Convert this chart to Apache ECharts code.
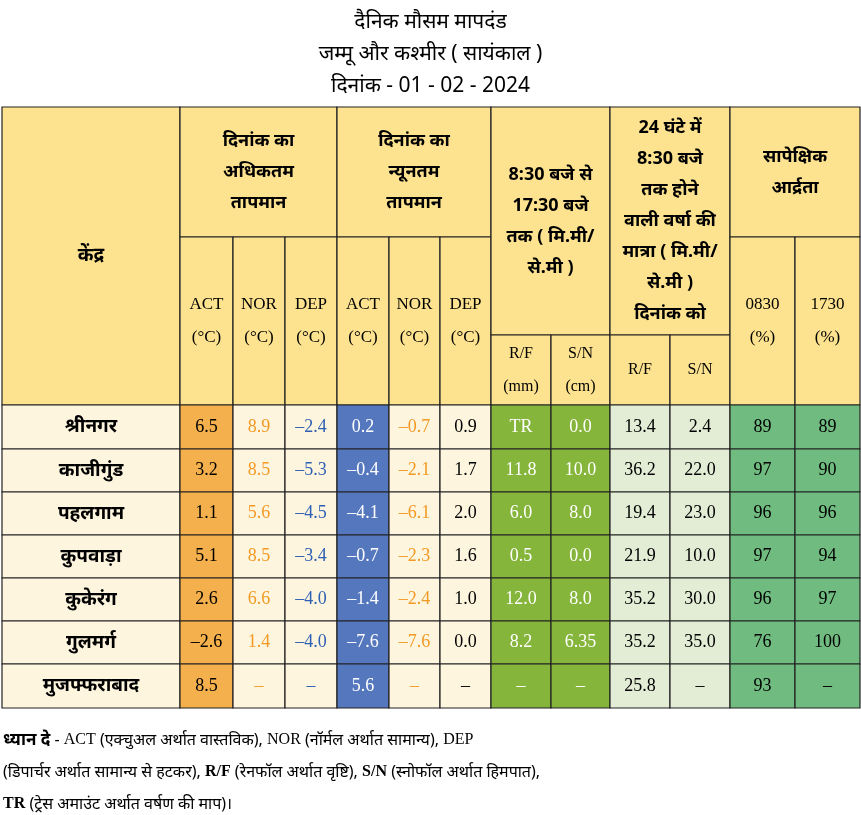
<!DOCTYPE html>
<html><head><meta charset="utf-8">
<script src="https://cdn.jsdelivr.net/npm/echarts@6/dist/echarts.min.js"></script>
<style>html,body{margin:0;padding:0;background:#fff}#c{width:861px;height:815px}</style>
</head><body><div id="c"></div>
<script>
// ---- data ----
const stations = ['श्रीनगर','काजीगुंड','पहलगाम','कुपवाड़ा','कुकेरंग','गुलमर्ग','मुजफ्फराबाद'];
const maxAct = ['6.5','3.2','1.1','5.1','2.6','–2.6','8.5'];
const maxNor = ['8.9','8.5','5.6','8.5','6.6','1.4','–'];
const maxDep = ['–2.4','–5.3','–4.5','–3.4','–4.0','–4.0','–'];
const minAct = ['0.2','–0.4','–4.1','–0.7','–1.4','–7.6','5.6'];
const minNor = ['–0.7','–2.1','–6.1','–2.3','–2.4','–7.6','–'];
const minDep = ['0.9','1.7','2.0','1.6','1.0','0.0','–'];
const rfDay = ['TR','11.8','6.0','0.5','12.0','8.2','–'];
const snDay = ['0.0','10.0','8.0','0.0','8.0','6.35','–'];
const rf24 = ['13.4','36.2','19.4','21.9','35.2','35.2','25.8'];
const sn24 = ['2.4','22.0','23.0','10.0','30.0','35.0','–'];
const rh0830 = ['89','97','96','97','96','76','93'];
const rh1730 = ['89','90','96','94','97','100','–'];
const titleLines = ['दैनिक मौसम मापदंड','जम्मू और कश्मीर ( सायंकाल )','दिनांक - 01 - 02 - 2024'];

// ---- layout ----
const colX = [2,180,233,285,337,389,440,491,551,610,670,730,795,860];
const rowY = [107,237,335,405,449,492,535,578,621,664,708];
const HDR = '#fde38f', CREAM = '#fef5df';
const DEV = "'Noto Sans','Lohit Devanagari','FreeSans',sans-serif";
const SER = "'Liberation Serif','DejaVu Serif',serif";

const cells = [];
function cell(c0,c1,r0,r1,text,bg,color,font,bold,size){cells.push([c0,c1,r0,r1,text,bg,color,font,bold?1:0,size||17]);}
cell(0,1,0,3,'केंद्र',HDR,'#000',DEV,1,19);
cell(1,4,0,1,'दिनांक का\nअधिकतम\nतापमान',HDR,'#000',DEV,1,18);
cell(4,7,0,1,'दिनांक का\nन्यूनतम\nतापमान',HDR,'#000',DEV,1,18);
['ACT','NOR','DEP','ACT','NOR','DEP'].forEach((t,i)=>cell(1+i,2+i,1,3,t+'\n(°C)',HDR,'#000',SER,0,17));
cell(7,9,0,2,'8:30 बजे से\n17:30 बजे\nतक ( मि.मी/\nसे.मी )',HDR,'#000',DEV,1,18);
cell(7,8,2,3,'R/F\n(mm)',HDR,'#000',SER,0,16);
cell(8,9,2,3,'S/N\n(cm)',HDR,'#000',SER,0,16);
cell(9,11,0,2,'24 घंटे में\n8:30 बजे\nतक होने\nवाली वर्षा की\nमात्रा ( मि.मी/\nसे.मी )\nदिनांक को',HDR,'#000',DEV,1,18);
cell(9,10,2,3,'R/F',HDR,'#000',SER,0,16);
cell(10,11,2,3,'S/N',HDR,'#000',SER,0,16);
cell(11,13,0,1,'सापेक्षिक\nआर्द्रता',HDR,'#000',DEV,1,18);
cell(11,12,1,3,'0830\n(%)',HDR,'#000',SER,0,17);
cell(12,13,1,3,'1730\n(%)',HDR,'#000',SER,0,17);
const cols = [
 [stations,CREAM,'#000',DEV,1],
 [maxAct,'#f4b04c','#000',SER,0],
 [maxNor,CREAM,'#f39a25',SER,0],
 [maxDep,CREAM,'#2d5fb3',SER,0],
 [minAct,'#5577be','#fff',SER,0],
 [minNor,CREAM,'#f39a25',SER,0],
 [minDep,CREAM,'#000',SER,0],
 [rfDay,'#86b53c','#fff',SER,0],
 [snDay,'#86b53c','#fff',SER,0],
 [rf24,'#e3ecd5','#000',SER,0],
 [sn24,'#e3ecd5','#000',SER,0],
 [rh0830,'#70bc80','#000',SER,0],
 [rh1730,'#70bc80','#000',SER,0]
];
cols.forEach((c,ci)=>c[0].forEach((v,ri)=>cell(ci,ci+1,3+ri,4+ri,v,c[1],c[2],c[3],c[4],ci===0?19:18)));

const chart = echarts.init(document.getElementById('c'));
chart.setOption({
  animation:false,
  title:{text:titleLines.join('\n'),left:'center',top:1,textStyle:{fontFamily:DEV,fontSize:21,fontWeight:'normal',lineHeight:32,color:'#000'}},
  grid:{left:0,right:0,top:0,bottom:0},
  xAxis:{type:'value',min:0,max:861,show:false},
  yAxis:{type:'value',min:0,max:815,inverse:true,show:false},
  series:[{
    type:'custom',
    data:cells,
    renderItem:function(params,api){
      const c0=api.value(0),c1=api.value(1),r0=api.value(2),r1=api.value(3);
      const d=cells[params.dataIndex];
      const p0=api.coord([colX[c0],rowY[r0]]), p1=api.coord([colX[c1],rowY[r1]]);
      return {type:'group',children:[
        {type:'rect',shape:{x:p0[0],y:p0[1],width:p1[0]-p0[0],height:p1[1]-p0[1]},style:{fill:d[5],stroke:'#222',lineWidth:1.2}},
        {type:'text',style:{x:(p0[0]+p1[0])/2,y:(p0[1]+p1[1])/2,text:d[4],align:'center',verticalAlign:'middle',
          fill:d[6],fontFamily:d[7],fontWeight:d[8]?'bold':'normal',fontSize:d[9],lineHeight:d[7]===DEV?31:33}}
      ]};
    }
  }],
  graphic:[{type:'text',left:3,top:724,style:{
    text:'{b|ध्यान दे} - {s|ACT} (एक्चुअल अर्थात वास्तविक), {s|NOR} (नॉर्मल अर्थात सामान्य), {s|DEP}\n(डिपार्चर अर्थात सामान्य से हटकर), {sb|R/F} (रेनफॉल अर्थात वृष्टि), {sb|S/N} (स्नोफॉल अर्थात हिमपात),\n{sb|TR} (ट्रेस अमाउंट अर्थात वर्षण की माप)।',
    fontFamily:DEV,fontSize:16,lineHeight:32,fill:'#000',
    rich:{b:{fontFamily:DEV,fontWeight:'bold',fontSize:17,lineHeight:32},s:{fontFamily:SER,fontSize:16,lineHeight:32},sb:{fontFamily:SER,fontWeight:'bold',fontSize:16,lineHeight:32}}}}]
});
</script></body></html>
